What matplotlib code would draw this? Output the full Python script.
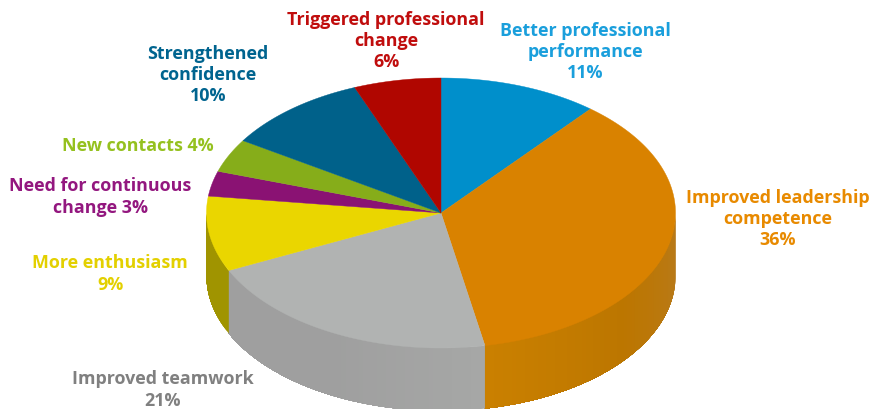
import numpy as np
import matplotlib
matplotlib.use('Agg')
import matplotlib.pyplot as plt
from matplotlib.colors import to_rgb

labels = ['Better professional\nperformance\n11%', 'Improved leadership\ncompetence\n36%',
          'Improved teamwork\n21%', 'More enthusiasm\n9%', 'Need for continuous\nchange 3%',
          'New contacts 4%', 'Strengthened\nconfidence\n10%', 'Triggered professional\nchange\n6%']
values = [11, 36, 21, 9, 3, 4, 10, 6]
top_colors = ['#008fcb', '#d98200', '#b1b3b2', '#ead600', '#8a1273', '#86ad1a', '#00618a', '#b00600']
text_colors = ['#1a9fdc', '#e88a00', '#808080', '#e3d000', '#93177f', '#95c11f', '#00648f', '#c00d0d']
# wall shade at start, middle and end of each slice's rim
side_colors = [('#008fcb',) * 3,
               ('#b87a1c', '#bc7600', '#ca8000'),
               ('#a6a7a6', '#9f9f9f', '#9f9f9f'),
               ('#a09400',) * 3,
               ('#8a1273',) * 3, ('#86ad1a',) * 3, ('#00618a',) * 3, ('#b00600',) * 3]
label_x = [585, 778, 163, 110, 100, 138, 208, 386]
label_y = [52, 219, 390, 274, 197, 146, 75, 41]

cx, cy = 441, 213
rx, ry = 234.5, 135
depth = 63


def ellipse(theta):
    return cx + rx * np.sin(theta), cy - ry * np.cos(theta)


fig = plt.figure(figsize=(8.72, 4.09), dpi=100)
ax = fig.add_axes([0, 0, 1, 1])
ax.set_xlim(0, 872)
ax.set_ylim(409, 0)
ax.axis('off')

edges = np.cumsum([0] + values) / sum(values) * 2 * np.pi

# side wall first: each strip runs on to the end of the slice and the next
# one paints over it, that way no white seams show between strips
for i in range(len(values)):
    a0, a1 = max(edges[i], np.pi / 2), min(edges[i + 1], 3 * np.pi / 2)
    if a1 <= a0:
        continue
    n = max(int((a1 - a0) * 50), 2)
    t = np.linspace(a0, a1, n + 1)
    stops = np.array([to_rgb(c) for c in side_colors[i]])
    for j in range(n):
        f = j / (n - 1) if n > 1 else 0
        col = [np.interp(f, [0, 0.5, 1], stops[:, k]) for k in range(3)]
        x, y = ellipse(np.linspace(t[j], a1, 120))
        ax.fill(np.r_[x, x[::-1]], np.r_[y, y[::-1] + depth], color=col, lw=0)

# top face
for i in range(len(values)):
    t = np.linspace(edges[i], edges[i + 1], 200)
    x, y = ellipse(t)
    ax.fill(np.r_[cx, x], np.r_[cy, y], color=top_colors[i], lw=0.3, ec=top_colors[i])

for i in range(len(values)):
    ax.text(label_x[i], label_y[i], labels[i], color=text_colors[i], ha='center', va='center',
            fontsize=12.9, fontweight='bold', family='Open Sans', linespacing=1.23)

fig.savefig('out.png', dpi=100)
